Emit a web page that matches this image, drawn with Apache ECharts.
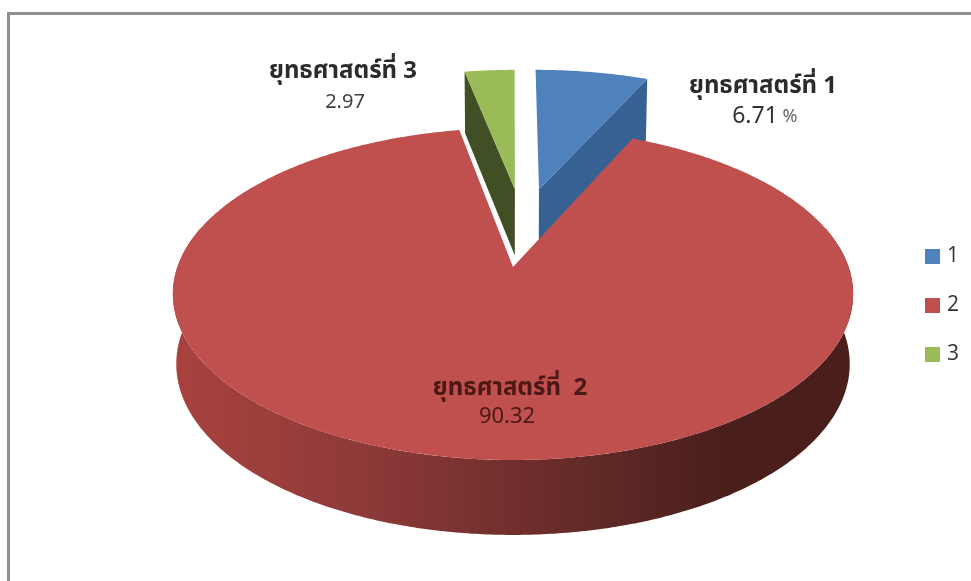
<!DOCTYPE html>
<html><head><meta charset="utf-8">
<style>html,body{margin:0;padding:0;background:#fff}#c{width:971px;height:581px}</style>
<script src="https://cdn.jsdelivr.net/npm/echarts@6/dist/echarts.min.js"></script>
</head><body><div id="c"></div>
<script>
const categories = ['1', '2', '3'];
const values = [6.71, 90.32, 2.97];
const labelTitles = ['ยุทธศาสตร์ที่ 1', 'ยุทธศาสตร์ที่  2', 'ยุทธศาสตร์ที่ 3'];
const labelValues = ['6.71', '90.32', '2.97'];
const labelUnits = [' %', '', ''];
const colors = ['#4f81bd', '#c0504d', '#9bbb59'];
const cutColors = ['#386193', '#c0504d', '#414f24'];

// projection of the tilted pie onto the page
const FONT = '"Noto Sans Thai","Noto Sans","DejaVu Sans",sans-serif';
const P = {x0: 513, y0: 267, a: 335.6, b: 161.6, k: 0.1626, d: 69, kd: 0.0794, bottomScale: 0.99};
const explode = [[0.084, 0.522], [0, 0], [0.006, 0.522]];
const total = values.reduce((s, v) => s + v, 0);
function startFrac(i) { let s = 0; for (let j = 0; j < i; j++) s += values[j]; return s / total; }
function proj(u, v, bottom) {
  const den = 1 + P.k * v;
  let X = P.a * u / den, Y = -P.b * v / den;
  if (bottom) { X *= P.bottomScale; Y += P.d / (1 + P.kd * v); }
  return [P.x0 + X, P.y0 + Y];
}
function rim(i, t, bottom) {
  return proj(explode[i][0] + Math.sin(t), explode[i][1] + Math.cos(t), bottom);
}
function arc(i, t0, t1, bottom) {
  const n = Math.max(2, Math.ceil(Math.abs(t1 - t0) / 0.01)), pts = [];
  for (let s = 0; s <= n; s++) pts.push(rim(i, t0 + (t1 - t0) * s / n, bottom));
  return pts;
}
function renderSlice(params, api) {
  const i = params.seriesIndex;
  const val = api.value(0);
  const t0 = startFrac(i) * 2 * Math.PI, t1 = t0 + val / total * 2 * Math.PI;
  const c = proj(explode[i][0], explode[i][1], false);
  const cB = proj(explode[i][0], explode[i][1], true);
  const children = [];
  if (i === 1) {
    // outer wall (front half of the rim)
    const from = Math.PI * 0.42, to = Math.PI * 1.58;
    children.push({type: 'polygon', shape: {points: arc(i, from, to, false).concat(arc(i, to, from, true))},
      style: {fill: {type: 'linear', x: 172, y: 0, x2: 852, y2: 0, global: true, colorStops: [
        {offset: 0, color: '#a8423f'}, {offset: 0.28, color: '#8e3a38'}, {offset: 0.52, color: '#6e2e2c'},
        {offset: 0.7, color: '#572522'}, {offset: 0.82, color: '#4a1e1b'}, {offset: 1, color: '#4a1e1b'}]}}});
  } else {
    // visible cut face
    const edge = i === 0 ? t1 : t0;
    children.push({type: 'polygon', shape: {points: [c, rim(i, edge, false), rim(i, edge, true), cB]},
      style: {fill: cutColors[i]}});
  }
  children.push({type: 'polygon', shape: {points: [c].concat(arc(i, t0, t1, false))}, style: {fill: colors[i]}});
  return {type: 'group', children};
}
const seriesZ = [2, 3, 2];
const series = categories.map((name, i) => ({
  type: 'custom', name, coordinateSystem: 'none', z: seriesZ[i], silent: true,
  itemStyle: {color: colors[i]}, renderItem: renderSlice, data: [[values[i]]], animation: false
}));
const labelCentres = [[763, 88, 118], [510, 390, 419], [343, 73, 104]];
const valueCentres = [755, 507, 345];
const titleColors = ['#2b2b2b', '#4a1816', '#2b2b2b'];
const valueColors = ['#333333', '#4a1816', '#404040'];
const graphic = [{type: 'rect', z: 0, shape: {x: 8.5, y: 13.5, width: 1100, height: 800},
  style: {fill: 'none', stroke: '#8f8f8f', lineWidth: 3}}];
categories.forEach((_, i) => {
  const [x, y1, y2] = labelCentres[i];
  graphic.push({type: 'text', z: 10, x, y: y1, style: {text: labelTitles[i], align: 'center', verticalAlign: 'middle',
    font: 'bold 24px ' + FONT, fill: titleColors[i]}});
  graphic.push({type: 'text', z: 10, x: valueCentres[i], y: y2, style: {text: labelValues[i], align: 'center', verticalAlign: 'middle',
    font: (i === 0 ? 23 : i === 1 ? 22 : 20) + 'px ' + FONT, fill: valueColors[i]}});
  if (labelUnits[i]) graphic.push({type: 'text', z: 10, x: 790, y: y2, style: {text: labelUnits[i].trim(), align: 'center', verticalAlign: 'middle',
    font: '18px ' + FONT, fill: '#666666'}});
});
const chart = echarts.init(document.getElementById('c'), null, {renderer: 'canvas'});
chart.setOption({
  animation: false, backgroundColor: '#ffffff',
  legend: {show: true, orient: 'vertical', left: 925, top: 246, padding: 0, itemWidth: 15, itemHeight: 15, itemGap: 28, icon: 'rect',
    data: categories, selectedMode: false, textStyle: {fontSize: 21, color: '#333', fontFamily: '"Open Sans",sans-serif', padding: [0,0,0,2]}},
  graphic, series
});
</script></body></html>
